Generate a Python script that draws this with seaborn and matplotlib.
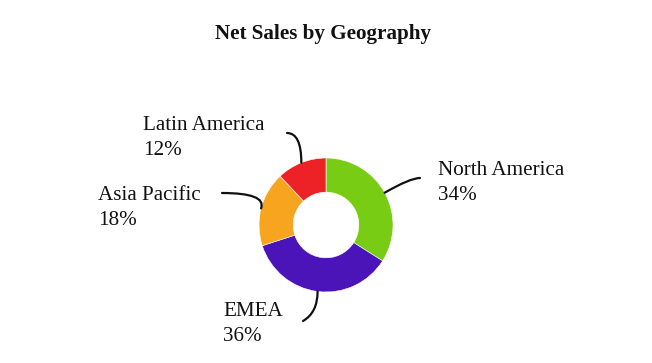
import numpy as np
import matplotlib
matplotlib.use("Agg")
import matplotlib.pyplot as plt
import seaborn as sns

regions = ["North America", "EMEA", "Asia Pacific", "Latin America"]
shares = [34, 36, 18, 12]
colors = ["#78CC14", "#4A14B8", "#F7A41E", "#EC2226"]

sns.set_theme(style="white")
plt.rcParams["font.family"] = ["Liberation Serif", "DejaVu Serif"]

W, H = 652, 363
fig = plt.figure(figsize=(W / 100, H / 100), dpi=100)
ax = fig.add_axes([0, 0, 1, 1])
ax.set_xlim(0, W)
ax.set_ylim(0, H)
ax.set_aspect("equal")
ax.axis("off")

cx, cy, R = 326, H - 225, 67
wedges, _ = ax.pie(shares, colors=colors, startangle=90, counterclock=False,
                   center=(cx, cy), radius=R,
                   wedgeprops=dict(width=R * 0.51, edgecolor="white", linewidth=0.4))
ax.set_xlim(0, W)
ax.set_ylim(0, H)

fs = 15.2
# label layout: (left x, first baseline y in pixels from top, connection angles)
layout = {
    "North America": (438, 175, (420, 178), "angle3,angleA=0,angleB=30"),
    "EMEA": (223, 316, (303, 321), "angle3,angleA=30,angleB=90"),
    "Asia Pacific": (98, 200, (222, 193), "angle3,angleA=0,angleB=70"),
    "Latin America": (143, 130, (287, 133), "angle3,angleA=0,angleB=90"),
}

for w, name, val in zip(wedges, regions, shares):
    tx, ty, (lx, ly), cs = layout[name]
    ang = np.deg2rad((w.theta1 + w.theta2) / 2)
    px, py = cx + R * np.cos(ang), cy + R * np.sin(ang)
    ax.annotate("", xy=(px, py), xytext=(lx, H - ly),
                arrowprops=dict(arrowstyle="-", color="#111111", lw=1.6,
                                connectionstyle=cs, shrinkA=0, shrinkB=0))
    ax.text(tx, H - ty, name, fontsize=fs, ha="left", va="baseline", color="#111111")
    ax.text(tx, H - ty - 25, f"{val}%", fontsize=fs, ha="left", va="baseline", color="#111111")

ax.text(323.5, H - 39, "Net Sales by Geography", fontsize=fs, fontweight="bold",
        ha="center", va="baseline", color="#111111")

fig.savefig("out.png", dpi=100)
